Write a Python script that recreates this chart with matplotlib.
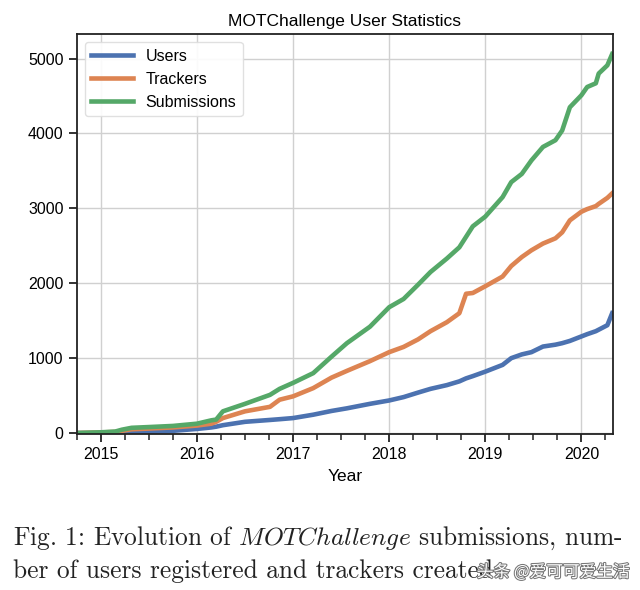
import matplotlib
matplotlib.use("Agg")
import matplotlib.pyplot as plt
import matplotlib.patheffects as pe
from matplotlib.ticker import MultipleLocator

# decimal years
dates = [2014.75, 2015.0, 2015.15, 2015.22, 2015.32, 2015.5, 2015.75, 2016.0,
         2016.15, 2016.2, 2016.27, 2016.5, 2016.76, 2016.86, 2017.0, 2017.21,
         2017.4, 2017.56, 2017.8, 2018.0, 2018.15, 2018.3, 2018.43, 2018.6,
         2018.73, 2018.8, 2018.87, 2019.0, 2019.18, 2019.27, 2019.38, 2019.48,
         2019.6, 2019.73, 2019.8, 2019.88, 2020.0, 2020.06, 2020.15, 2020.18,
         2020.27, 2020.32]

users = [0, 0, 2, 5, 8, 15, 30, 55, 75, 85, 105, 150, 175, 185, 200, 245,
         295, 330, 390, 435, 480, 540, 590, 640, 690, 730, 760, 820, 910, 1000,
         1050, 1080, 1155, 1180, 1200, 1230, 1290, 1320, 1360, 1380, 1440, 1600]

trackers = [0, 8, 15, 30, 50, 60, 75, 100, 125, 150, 200, 290, 350, 445, 490,
            600, 740, 830, 960, 1080, 1150, 1250, 1360, 1480, 1600, 1860, 1870,
            1960, 2090, 2230, 2350, 2440, 2530, 2600, 2680, 2840, 2955, 2990,
            3030, 3060, 3140, 3200]

submissions = [0, 10, 20, 45, 70, 80, 95, 125, 170, 180, 290, 390, 510, 590,
               670, 800, 1020, 1200, 1420, 1680, 1790, 1980, 2150, 2330, 2480,
               2620, 2760, 2890, 3150, 3350, 3460, 3640, 3820, 3910, 4040, 4350,
               4510, 4620, 4670, 4800, 4910, 5060]

year_ticks = [2015, 2016, 2017, 2018, 2019, 2020]
value_ticks = [0, 1000, 2000, 3000, 4000, 5000]

plt.rcParams["font.family"] = ["Liberation Sans", "DejaVu Sans"]
plt.rcParams["mathtext.fontset"] = "cm"

fig = plt.figure(figsize=(6.4, 5.9), dpi=100)
ax = fig.add_axes([0.120, 0.265, 0.838, 0.677])

ax.plot(dates, users, color="#4C72B0", lw=3.3, label="Users")
ax.plot(dates, trackers, color="#DD8452", lw=3.3, label="Trackers")
ax.plot(dates, submissions, color="#55A868", lw=3.3, label="Submissions")

ax.set_xlim(2014.75, 2020.33)
ax.set_ylim(-8, 5325)
ax.set_xticks(year_ticks)
ax.set_yticks(value_ticks)
ax.xaxis.set_minor_locator(MultipleLocator(0.25))
ax.tick_params(axis="both", which="major", length=6, width=1.3, labelsize=11.5,
               color="#222222")
ax.tick_params(axis="x", which="minor", length=4, width=1.1, color="#222222")
ax.grid(True, which="major", color="#d0d0d0", lw=1)
for s in ax.spines.values():
    s.set_linewidth(1.3)
    s.set_color("#222222")

ax.set_title("MOTChallenge User Statistics", fontsize=12.5, pad=6)
ax.set_xlabel("Year", fontsize=12.5, labelpad=5)
ax.legend(loc="upper left", fontsize=11.5, handlelength=2.6, framealpha=0.9,
          edgecolor="#dddddd")

fig.text(0.02, 0.077, r"Fig. 1: Evolution of $MOTChallenge$ submissions, num-",
         family="cmr10", fontsize=18.3, color="#222222", va="baseline")
fig.text(0.02, 0.020, "ber of users registered and trackers created.",
         family="cmr10", fontsize=18.3, color="#222222", va="baseline")
fig.text(0.745, 0.022, "头条 @爱可可爱生活", family=["Noto Sans CJK SC"],
         fontsize=12, color="white", va="baseline",
         path_effects=[pe.withStroke(linewidth=1.5, foreground="#777777")])

fig.savefig("out.png", dpi=100)
